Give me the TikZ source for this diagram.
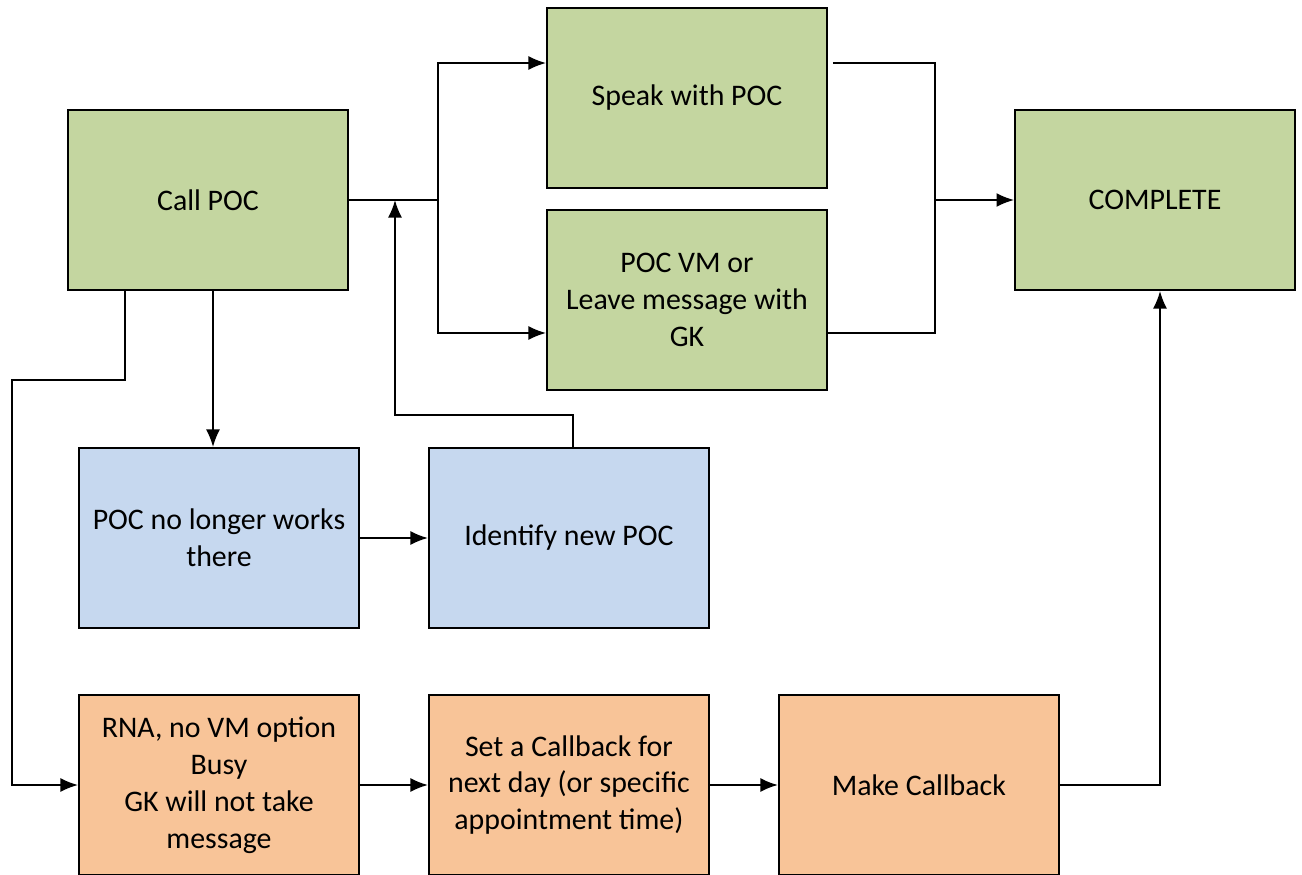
\documentclass[tikz,border=0pt]{standalone}
\usepackage{fontspec}
\setmainfont{Carlito}
\usepackage{tikz}
\usetikzlibrary{arrows.meta}
\definecolor{pocgreen}{RGB}{196,214,160}
\definecolor{pocblue}{RGB}{198,216,239}
\definecolor{pocorange}{RGB}{248,196,152}

\begin{document}
\begin{tikzpicture}[->,>={Latex[length=10pt,width=8pt]},auto,node distance=7cm,x=0.02cm,y=-0.02cm,
                    line width=1.1pt,
                    box/.style={rectangle,draw,align=center,minimum width=5.6cm,
                                minimum height=3.6cm,font=\fontsize{17}{21}\selectfont},
                    green box/.style={box,fill=pocgreen},
                    blue box/.style={box,fill=pocblue},
                    orange box/.style={box,fill=pocorange}]
  \useasboundingbox (0,0) rectangle (1302,875);
  \node[green box] (1) at (208,200) {Call POC};
  \node[green box] (2) at (687,98) {Speak with POC};
  \node[green box] (3) at (687,300) {POC VM or\\Leave message with\\GK};
  \node[green box] (4) at (1155,200) {COMPLETE};
  \node[blue box] (5) at (219,538) {POC no longer works\\there};
  \node[blue box] (6) [right of=5] {Identify new POC};
  \node[orange box] (7) at (219,785) {RNA, no VM option\\Busy\\GK will not take\\message};
  \node[orange box] (8) [right of=7] {Set a Callback for\\next day (or specific\\appointment time)};
  \node[orange box] (9) [right of=8] {Make Callback};
  \coordinate (fork) at (438,200);
  \coordinate (join) at (935,200);
  \coordinate (bend) at (12,380);
  \coordinate (back) at (395,415);
  \draw[-] (1.east) -- (fork);
  \draw (fork) |- ([yshift=0.7cm]2.west);
  \draw (fork) |- ([yshift=-0.66cm]3.west);
  \draw[-] ([xshift=0.1cm,yshift=0.7cm]2.east) -| (join);
  \draw[-] ([yshift=-0.66cm]3.east) -| (join);
  \draw (join) -- (4);
  \draw ([xshift=0.1cm]1.south) -- ([xshift=0.1cm]1.south |- 5.north);
  \draw ([xshift=-1.66cm]1.south) |- (bend) |- (7.west);
  \path (5) edge (6)
        (7) edge (8)
        (8) edge (9);
  \draw ([xshift=0.08cm]6.north) |- (back) -- (back |- 1.east);
  \draw (9.east) -| ([xshift=0.1cm]4.south);
\end{tikzpicture}
\end{document}
